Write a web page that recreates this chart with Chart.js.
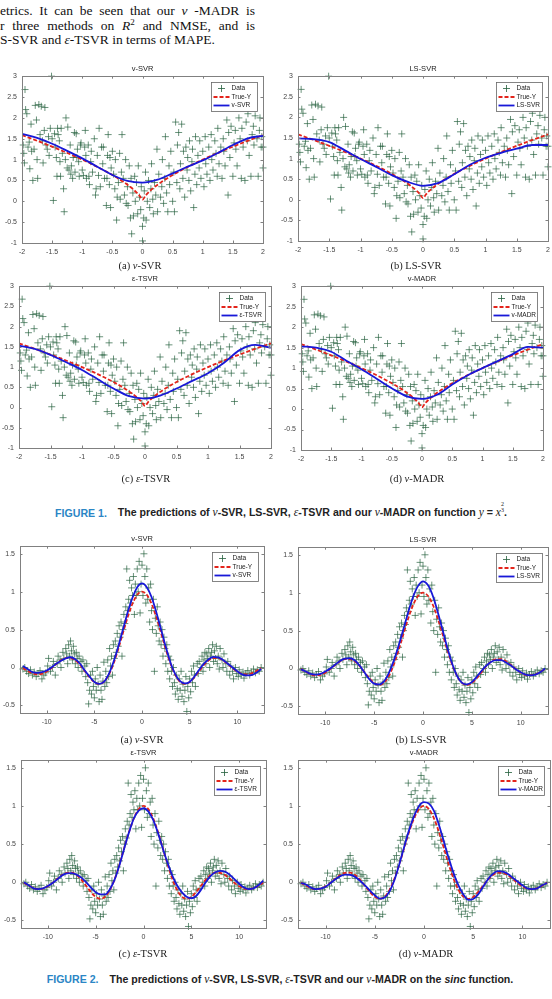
<!DOCTYPE html>
<html>
<head>
<meta charset="utf-8">
<script src="https://cdn.jsdelivr.net/npm/chart.js@4.4.0/dist/chart.umd.min.js"></script>
<style>
  body { margin: 0; width: 552px; height: 999px; position: relative; background: #fff; overflow: hidden; }
  .txt { position: absolute; left: 0; font-family: 'Liberation Serif', 'Times New Roman', serif; font-size: 13.5px; line-height: 15px; color: #111; white-space: nowrap; }
  .just { width: 255px; text-align: justify; text-align-last: justify; white-space: normal; }
  canvas { position: absolute; }
  .ttl { position: absolute; font-family: 'Liberation Sans', Arial, sans-serif; font-size: 7.5px; color: #222; transform: translate(-50%, -50%); white-space: nowrap; }
  .cap { position: absolute; font-family: 'Liberation Serif', 'Times New Roman', serif; font-size: 10.5px; color: #222; transform: translate(-50%, -50%); white-space: nowrap; }
  .fig { position: absolute; font-family: 'Liberation Sans', Arial, sans-serif; font-weight: bold; font-size: 10.6px; color: #222; transform: translate(-50%, -50%); white-space: nowrap; }
  .fig .lab { color: #2b86c5; margin-right: 8px; }
  .m { font-family: 'Liberation Serif', serif; font-style: italic; font-weight: normal; font-size: 11.5px; }
  .frac { display: inline-block; vertical-align: 5px; font-size: 6px; line-height: 5.5px; text-align: center; font-family: 'Liberation Serif', serif; font-weight: normal; }
</style>
</head>
<body>
<div id="page"></div>
<script>
// ---- data ----
const f1XTicks = [-2, -1.5, -1, -0.5, 0, 0.5, 1, 1.5, 2];
const f1YTicks = [-1, -0.5, 0, 0.5, 1, 1.5, 2, 2.5, 3];
const f2XTicks = [-10, -5, 0, 5, 10];
const f2YTicks = [-0.5, 0, 0.5, 1, 1.5];

// noisy samples of y = x^(2/3)
const f1Data = [[-1.98,1.35],[-1.97,1.15],[-1.96,0.92],[-1.95,2.68],[-1.94,2.2],[-1.92,2.1],[-1.9,1.3],[-1.88,1.42],[-1.87,0.78],[-1.85,1.85],[-1.84,1.2],[-1.82,0.5],[-1.8,1.25],[-1.78,2.3],[-1.76,1.95],[-1.75,1.0],[-1.74,0.55],[-1.72,2.32],[-1.7,1.6],[-1.68,2.28],[-1.66,1.45],[-1.65,0.92],[-1.63,1.7],[-1.62,2.25],[-1.6,1.35],[-1.58,1.25],[-1.56,1.55],[-1.55,1.1],[-1.53,1.75],[-1.51,3.0],[-1.5,1.5],[-1.48,0.02],[-1.46,1.62],[-1.45,1.3],[-1.43,1.05],[-1.42,0.6],[-1.41,1.75],[-1.4,1.6],[-1.38,1.45],[-1.37,0.95],[-1.36,0.6],[-1.35,1.75],[-1.33,1.15],[-1.31,0.3],[-1.3,-0.25],[-1.28,1.0],[-1.27,2.0],[-1.25,0.8],[-1.24,1.78],[-1.22,0.75],[-1.2,1.35],[-1.19,0.65],[-1.18,0.85],[-1.16,0.55],[-1.15,1.05],[-1.13,1.65],[-1.12,0.7],[-1.1,1.62],[-1.09,1.05],[-1.08,1.25],[-1.06,0.95],[-1.05,0.6],[-1.03,1.35],[-1.02,1.4],[-1.0,0.75],[-0.98,0.62],[-0.96,1.3],[-0.95,1.7],[-0.94,1.1],[-0.93,0.55],[-0.9,1.35],[-0.89,0.6],[-0.88,0.4],[-0.86,0.95],[-0.85,1.2],[-0.83,0.7],[-0.8,1.5],[-0.78,0.15],[-0.77,0.3],[-0.75,1.1],[-0.73,0.62],[-0.72,1.75],[-0.7,0.35],[-0.68,1.3],[-0.66,0.9],[-0.65,1.3],[-0.63,0.55],[-0.6,-0.1],[-0.59,0.55],[-0.58,1.1],[-0.57,1.6],[-0.55,0.4],[-0.54,1.05],[-0.53,-0.15],[-0.52,0.8],[-0.5,1.2],[-0.48,0.65],[-0.46,0.3],[-0.45,1.0],[-0.43,-0.45],[-0.42,0.1],[-0.4,0.45],[-0.38,1.15],[-0.37,0.05],[-0.35,0.7],[-0.34,1.6],[-0.32,0.55],[-0.3,0.15],[-0.28,1.0],[-0.27,-0.05],[-0.25,0.35],[-0.24,-0.1],[-0.22,0.85],[-0.2,-0.4],[-0.19,0.55],[-0.18,-0.78],[-0.16,0.2],[-0.15,-0.35],[-0.13,0.6],[-0.12,0.0],[-0.1,0.45],[-0.08,-0.3],[-0.07,0.85],[-0.05,0.1],[-0.03,-0.2],[-0.02,0.35],[0.0,-0.95],[0.0,-0.6],[0.02,-0.4],[0.03,0.25],[0.05,0.7],[0.06,-0.45],[0.08,0.0],[0.1,0.5],[0.12,-0.15],[0.14,0.3],[0.15,0.9],[0.17,0.05],[0.18,-0.3],[0.2,0.45],[0.22,0.15],[0.24,1.25],[0.25,-0.25],[0.27,0.65],[0.3,0.1],[0.32,0.35],[0.33,1.0],[0.35,-0.05],[0.37,0.55],[0.38,1.55],[0.4,0.2],[0.42,-0.25],[0.44,0.85],[0.45,0.4],[0.47,1.2],[0.5,0.0],[0.52,0.7],[0.53,-0.25],[0.55,1.9],[0.57,0.45],[0.58,1.35],[0.6,1.65],[0.62,0.3],[0.63,0.9],[0.65,1.85],[0.67,0.55],[0.68,1.2],[0.7,0.1],[0.72,1.3],[0.74,0.75],[0.75,1.05],[0.77,0.5],[0.78,1.45],[0.8,0.25],[0.82,0.95],[0.83,1.25],[0.85,-0.15],[0.87,0.65],[0.88,1.55],[0.9,0.4],[0.92,1.1],[0.94,0.8],[0.95,1.45],[0.97,0.55],[1.0,1.2],[1.02,0.35],[1.04,1.55],[1.05,0.9],[1.07,0.65],[1.1,1.3],[1.12,0.5],[1.14,1.6],[1.15,1.0],[1.17,0.75],[1.2,1.45],[1.22,1.15],[1.24,0.6],[1.25,1.75],[1.27,0.9],[1.3,1.3],[1.32,0.55],[1.34,1.5],[1.35,1.2],[1.37,0.85],[1.4,1.95],[1.42,0.15],[1.43,1.65],[1.45,1.05],[1.47,1.8],[1.5,0.6],[1.52,1.4],[1.54,1.7],[1.55,1.25],[1.57,0.85],[1.6,2.0],[1.62,1.5],[1.64,0.55],[1.65,1.75],[1.67,1.3],[1.7,0.5],[1.72,1.9],[1.74,1.45],[1.75,2.1],[1.77,1.1],[1.8,0.6],[1.82,1.6],[1.84,1.8],[1.85,1.35],[1.87,2.05],[1.9,1.5],[1.92,0.6],[1.94,1.7],[1.95,2.0],[1.97,1.3],[1.98,1.55],[2.0,0.8],[2.0,1.3]];

// true curve y = x^(2/3)
const f1TrueX = [-2,-1.9,-1.8,-1.7,-1.6,-1.5,-1.4,-1.3,-1.2,-1.1,-1,-0.9,-0.8,-0.7,-0.6,-0.5,-0.4,-0.3,-0.2,-0.1,-0.05,0,0.05,0.1,0.2,0.3,0.4,0.5,0.6,0.7,0.8,0.9,1,1.1,1.2,1.3,1.4,1.5,1.6,1.7,1.8,1.9,2];
const f1TrueY = [1.587,1.534,1.480,1.424,1.368,1.310,1.252,1.191,1.129,1.066,1.0,0.932,0.862,0.788,0.711,0.630,0.543,0.448,0.342,0.215,0.136,0.04,0.136,0.215,0.342,0.448,0.543,0.630,0.711,0.788,0.862,0.932,1.0,1.066,1.129,1.191,1.252,1.310,1.368,1.424,1.480,1.534,1.587];

// model predictions, figure 1
const f1ModX   = [-2,-1.75,-1.5,-1.25,-1,-0.75,-0.5,-0.25,0,0.25,0.5,0.75,1,1.25,1.5,1.75,2];
const f1SvrY   = [1.62,1.52,1.38,1.21,1.03,0.83,0.63,0.49,0.45,0.52,0.67,0.83,0.98,1.16,1.35,1.51,1.57];
const f1LssvrY = [1.49,1.47,1.40,1.20,0.99,0.80,0.60,0.44,0.34,0.41,0.62,0.85,1.02,1.14,1.24,1.33,1.33];
const f1TsvrY  = [1.53,1.45,1.30,1.12,0.93,0.70,0.47,0.28,0.22,0.30,0.47,0.66,0.85,1.10,1.42,1.55,1.48];
const f1MadrY  = [1.53,1.50,1.40,1.18,0.97,0.74,0.51,0.31,0.25,0.35,0.60,0.82,1.00,1.17,1.34,1.52,1.50];

// noisy samples of sinc
const f2Data = [[-12.5,-0.02],[-12.3,0.0],[-12.1,-0.05],[-11.9,-0.08],[-11.7,-0.03],[-11.5,-0.1],[-11.3,-0.06],[-11.1,-0.12],[-10.9,-0.08],[-10.7,-0.04],[-10.5,-0.15],[-10.3,-0.1],[-10.1,-0.07],[-9.9,0.02],[-9.8,0.12],[-9.6,-0.05],[-9.4,0.0],[-9.3,0.08],[-9.1,-0.1],[-8.9,0.05],[-8.8,0.15],[-8.6,0.1],[-8.5,0.0],[-8.3,0.2],[-8.2,0.12],[-8.0,0.25],[-7.9,0.18],[-7.8,0.05],[-7.7,0.3],[-7.6,0.15],[-7.5,0.35],[-7.4,0.22],[-7.3,0.1],[-7.2,0.28],[-7.1,0.18],[-7.0,0.05],[-6.9,0.2],[-6.8,0.12],[-6.7,0.0],[-6.6,0.15],[-6.4,0.08],[-6.3,-0.05],[-6.2,0.1],[-6.0,0.02],[-5.9,-0.12],[-5.8,0.05],[-5.7,-0.2],[-5.6,-0.48],[-5.5,-0.3],[-5.4,-0.1],[-5.3,-0.35],[-5.2,-0.05],[-5.1,-0.25],[-5.0,-0.4],[-4.9,-0.15],[-4.8,-0.3],[-4.7,0.0],[-4.6,-0.22],[-4.5,-0.45],[-4.4,-0.1],[-4.3,-0.3],[-4.2,-0.42],[-4.1,-0.18],[-4.0,0.07],[-3.9,-0.25],[-3.8,-0.05],[-3.7,-0.2],[-3.6,0.1],[-3.5,-0.12],[-3.4,0.25],[-3.3,0.02],[-3.2,0.15],[-3.1,-0.1],[-3.0,0.3],[-2.9,0.12],[-2.8,0.35],[-2.7,0.2],[-2.6,0.45],[-2.5,0.28],[-2.4,0.55],[-2.3,0.4],[-2.2,0.6],[-2.1,0.15],[-2.0,0.5],[-1.9,0.7],[-1.8,0.58],[-1.7,0.8],[-1.6,1.3],[-1.5,0.75],[-1.4,0.9],[-1.3,1.15],[-1.2,0.85],[-1.1,1.05],[-1.0,0.95],[-0.9,1.2],[-0.8,0.7],[-0.7,1.1],[-0.6,0.95],[-0.5,1.3],[-0.4,1.0],[-0.3,1.4],[-0.2,0.72],[-0.1,1.1],[0.0,1.35],[0.1,0.95],[0.2,1.5],[0.3,1.2],[0.4,0.85],[0.5,1.3],[0.6,0.9],[0.7,1.05],[0.8,0.6],[0.9,1.1],[1.0,0.75],[1.1,0.5],[1.2,0.9],[1.3,-0.05],[1.4,0.65],[1.5,0.45],[1.6,0.8],[1.7,0.55],[1.8,0.35],[1.9,0.6],[2.0,0.3],[2.1,0.5],[2.2,0.15],[2.3,0.4],[2.4,0.25],[2.5,0.05],[2.6,0.3],[2.7,-0.05],[2.8,0.15],[2.9,-0.15],[3.0,0.1],[3.1,-0.05],[3.2,-0.25],[3.3,0.0],[3.4,-0.2],[3.5,-0.35],[3.6,-0.1],[3.7,-0.28],[3.8,-0.42],[3.9,-0.15],[4.0,-0.3],[4.1,-0.05],[4.2,-0.38],[4.3,-0.22],[4.4,-0.45],[4.5,-0.3],[4.6,-0.12],[4.7,-0.58],[4.8,-0.25],[4.9,-0.4],[5.0,-0.15],[5.1,-0.32],[5.2,-0.05],[5.3,-0.2],[5.4,0.02],[5.5,-0.1],[5.6,-0.25],[5.8,0.05],[5.9,-0.08],[6.0,0.08],[6.2,0.0],[6.3,0.15],[6.4,-0.05],[6.5,0.1],[6.6,0.2],[6.7,0.05],[6.8,0.18],[6.9,0.12],[7.0,0.25],[7.1,0.0],[7.2,0.15],[7.3,0.2],[7.4,0.3],[7.5,0.08],[7.6,0.22],[7.7,0.12],[7.8,0.28],[7.9,0.05],[8.0,0.15],[8.1,-0.02],[8.2,0.25],[8.4,0.1],[8.5,0.0],[8.6,0.18],[8.8,0.05],[8.9,-0.05],[9.0,0.08],[9.2,-0.1],[9.3,0.02],[9.5,-0.05],[9.6,-0.15],[9.8,0.0],[9.9,-0.08],[10.1,-0.12],[10.2,-0.03],[10.4,-0.1],[10.6,-0.06],[10.7,-0.14],[10.9,-0.08],[11.1,-0.04],[11.3,-0.1],[11.5,-0.06],[11.7,-0.02],[11.9,-0.07],[12.1,-0.03],[12.3,-0.05],[12.5,0.0]];

// shared x grid for the sinc curves
const f2GridX  = [-12.5,-12,-11.5,-11,-10.5,-10,-9.5,-9,-8.5,-8,-7.5,-7,-6.5,-6,-5.5,-5,-4.5,-4,-3.5,-3,-2.5,-2,-1.5,-1,-0.5,0,0.5,1,1.5,2,2.5,3,3.5,4,4.5,5,5.5,6,6.5,7,7.5,8,8.5,9,9.5,10,10.5,11,11.5,12,12.5];
const f2TrueY  = [-0.005,-0.045,-0.076,-0.091,-0.084,-0.054,-0.008,0.046,0.094,0.124,0.125,0.094,0.033,-0.047,-0.128,-0.192,-0.217,-0.189,-0.100,0.047,0.239,0.455,0.665,0.841,0.959,1.0,0.959,0.841,0.665,0.455,0.239,0.047,-0.100,-0.189,-0.217,-0.192,-0.128,-0.047,0.033,0.094,0.125,0.124,0.094,0.046,-0.008,-0.054,-0.084,-0.091,-0.076,-0.045,-0.005];
const f2SvrY   = [0.02,-0.02,-0.06,-0.07,-0.06,-0.04,0.0,0.05,0.09,0.12,0.135,0.11,0.05,-0.04,-0.12,-0.19,-0.215,-0.19,-0.09,0.07,0.27,0.5,0.73,0.92,1.06,1.11,1.06,0.93,0.73,0.5,0.27,0.06,-0.09,-0.18,-0.21,-0.19,-0.12,-0.03,0.05,0.11,0.14,0.135,0.1,0.05,0.0,-0.05,-0.09,-0.105,-0.1,-0.07,-0.02];
const f2LssvrY = [-0.01,-0.04,-0.07,-0.08,-0.07,-0.04,0.0,0.05,0.10,0.13,0.135,0.11,0.04,-0.05,-0.14,-0.2,-0.21,-0.17,-0.06,0.1,0.3,0.52,0.75,0.95,1.09,1.15,1.1,0.96,0.75,0.51,0.27,0.06,-0.1,-0.19,-0.21,-0.18,-0.11,-0.03,0.04,0.09,0.11,0.11,0.08,0.04,-0.01,-0.05,-0.08,-0.09,-0.08,-0.05,0.0];
const f2TsvrY  = [0.0,-0.04,-0.08,-0.09,-0.08,-0.05,-0.01,0.04,0.09,0.115,0.12,0.1,0.06,0.0,-0.07,-0.13,-0.16,-0.16,-0.09,0.04,0.23,0.45,0.66,0.84,0.94,0.97,0.93,0.82,0.65,0.45,0.26,0.09,-0.04,-0.13,-0.19,-0.21,-0.18,-0.1,0.0,0.08,0.13,0.15,0.14,0.1,0.04,-0.02,-0.07,-0.09,-0.08,-0.04,0.02];
const f2MadrY  = [-0.01,-0.03,-0.07,-0.09,-0.085,-0.06,-0.01,0.04,0.08,0.1,0.095,0.07,0.02,-0.04,-0.11,-0.17,-0.215,-0.2,-0.12,0.03,0.24,0.47,0.69,0.87,1.0,1.05,1.03,0.94,0.76,0.54,0.32,0.12,-0.04,-0.16,-0.23,-0.22,-0.16,-0.06,0.04,0.11,0.145,0.14,0.11,0.06,0.01,-0.04,-0.08,-0.09,-0.08,-0.04,-0.01];

const page = document.getElementById('page');

function addDiv(cls, html, x, y, extra) {
  const d = document.createElement('div');
  d.className = cls;
  d.innerHTML = html;
  d.style.left = x + 'px';
  d.style.top = y + 'px';
  if (extra) Object.assign(d.style, extra);
  page.appendChild(d);
  return d;
}

// body text above figure 1
addDiv('txt just', 'etrics. It can be seen that our <i>&nu;</i> -MADR is', 0, 3);
addDiv('txt just', 'r three methods on <i>R</i><sup style="font-size:9px;line-height:0">2</sup> and NMSE, and is', 0, 18);
addDiv('txt', 'S-SVR and <i>&epsilon;</i>-TSVR in terms of MAPE.', 0, 32);

const frame = {
  id: 'frame',
  afterDatasetsDraw(chart) {
    const ca = chart.chartArea, ctx = chart.ctx;
    const xs = chart.scales.x, ys = chart.scales.y;
    const name = chart.options.plugins.frame.name;
    ctx.save();
    // axes box with inward ticks
    ctx.strokeStyle = '#808080';
    ctx.lineWidth = 1;
    ctx.strokeRect(Math.round(ca.left) + 0.5, Math.round(ca.top) + 0.5, Math.round(ca.right - ca.left), Math.round(ca.bottom - ca.top));
    ctx.beginPath();
    xs.ticks.forEach(t => {
      const px = Math.round(xs.getPixelForValue(t.value)) + 0.5;
      ctx.moveTo(px, ca.bottom); ctx.lineTo(px, ca.bottom - 2.5);
      ctx.moveTo(px, ca.top); ctx.lineTo(px, ca.top + 2.5);
    });
    ys.ticks.forEach(t => {
      const py = Math.round(ys.getPixelForValue(t.value)) + 0.5;
      ctx.moveTo(ca.left, py); ctx.lineTo(ca.left + 2.5, py);
      ctx.moveTo(ca.right, py); ctx.lineTo(ca.right - 2.5, py);
    });
    ctx.stroke();

    // legend box in the upper right
    const w = 46, h = 29;
    const x0 = Math.round(ca.right - w - 6) + 0.5, y0 = Math.round(ca.top + 6) + 0.5;
    ctx.fillStyle = '#fff';
    ctx.fillRect(x0, y0, w, h);
    ctx.strokeStyle = '#666';
    ctx.lineWidth = 0.8;
    ctx.strokeRect(x0, y0, w, h);
    const r1 = y0 + 6, r2 = y0 + 14.5, r3 = y0 + 23;
    ctx.strokeStyle = 'rgba(35,95,60,0.8)';
    ctx.lineWidth = 1;
    ctx.beginPath();
    ctx.moveTo(x0 + 6.5, r1); ctx.lineTo(x0 + 13.5, r1);
    ctx.moveTo(x0 + 10, r1 - 3.5); ctx.lineTo(x0 + 10, r1 + 3.5);
    ctx.stroke();
    ctx.strokeStyle = '#e3241b';
    ctx.lineWidth = 1.8;
    ctx.setLineDash([4, 2]);
    ctx.beginPath(); ctx.moveTo(x0 + 2, r2); ctx.lineTo(x0 + 18, r2); ctx.stroke();
    ctx.setLineDash([]);
    ctx.strokeStyle = '#1818d8';
    ctx.beginPath(); ctx.moveTo(x0 + 2, r3); ctx.lineTo(x0 + 18, r3); ctx.stroke();
    ctx.fillStyle = '#222';
    ctx.font = '6.5px "Liberation Sans", Arial, sans-serif';
    ctx.textBaseline = 'middle';
    ctx.fillText('Data', x0 + 20, r1);
    ctx.fillText('True-Y', x0 + 20, r2);
    ctx.fillText(name, x0 + 20, r3);
    ctx.restore();
  }
};

const padL = 28, padT = 8, padR = 8, padB = 18;

function pts(xs, ys) {
  return xs.map((x, i) => ({ x: x, y: ys[i] }));
}

function makePanel(p) {
  const c = document.createElement('canvas');
  const w = (p.r - p.l) + padL + padR;
  const h = (p.b - p.t) + padT + padB;
  c.width = w; c.height = h;
  c.style.left = (p.l - padL) + 'px';
  c.style.top = (p.t - padT) + 'px';
  c.style.width = w + 'px';
  c.style.height = h + 'px';
  page.appendChild(c);

  const tickFont = { family: "'Liberation Sans', Arial, sans-serif", size: 7 };
  new Chart(c, {
    type: 'scatter',
    data: {
      datasets: [
        {
          label: p.name,
          data: pts(p.modX, p.modY),
          showLine: true,
          borderColor: '#1818d8',
          borderWidth: 1.8,
          pointRadius: 0,
          cubicInterpolationMode: 'monotone',
          order: 0
        },
        {
          label: 'True-Y',
          data: pts(p.trueX, p.trueY),
          showLine: true,
          borderColor: '#e3241b',
          borderWidth: 1.8,
          borderDash: [4, 2],
          pointRadius: 0,
          cubicInterpolationMode: 'monotone',
          order: 1
        },
        {
          label: 'Data',
          data: p.data.map(d => ({ x: d[0], y: d[1] })),
          pointStyle: 'cross',
          pointRadius: 3.5,
          borderColor: 'rgba(35,95,60,0.68)',
          pointBorderWidth: 1,
          clip: 5,
          order: 2
        }
      ]
    },
    options: {
      responsive: false,
      animation: false,
      devicePixelRatio: 1,
      layout: { padding: { left: 0, top: padT, right: padR, bottom: 0 } },
      plugins: { legend: { display: false }, tooltip: { enabled: false }, frame: { name: p.name } },
      scales: {
        x: {
          type: 'linear', min: p.xr[0], max: p.xr[1],
          grid: { display: false, drawTicks: false },
          border: { display: false },
          afterBuildTicks: s => { s.ticks = p.xt.map(v => ({ value: v })); },
          afterFit: s => { s.height = padB; },
          ticks: { font: tickFont, color: '#444', padding: 5, autoSkip: false, maxRotation: 0, callback: v => String(v) }
        },
        y: {
          type: 'linear', min: p.yr[0], max: p.yr[1],
          grid: { display: false, drawTicks: false },
          border: { display: false },
          afterBuildTicks: s => { s.ticks = p.yt.map(v => ({ value: v })); },
          afterFit: s => { s.width = padL; },
          ticks: { font: tickFont, color: '#444', padding: 5, autoSkip: false, callback: v => String(v) }
        }
      }
    },
    plugins: [frame]
  });

  addDiv('ttl', p.name, (p.l + p.r) / 2, p.t - 7);
  addDiv('cap', p.cap, p.capX, p.capY);
}

const f1 = { data: f1Data, trueX: f1TrueX, trueY: f1TrueY, modX: f1ModX, xr: [-2, 2], yr: [-1, 3], xt: f1XTicks, yt: f1YTicks };
const f2 = { data: f2Data, trueX: f2GridX, trueY: f2TrueY, modX: f2GridX, xr: [-12.8, 12.8], yr: [-0.6, 1.6], xt: f2XTicks, yt: f2YTicks };

const panels = [
  Object.assign({}, f1, { l: 22, t: 75, r: 263, b: 243, name: 'v-SVR', modY: f1SvrY, cap: '(a) <i>&nu;</i>-SVR', capX: 140, capY: 265 }),
  Object.assign({}, f1, { l: 298, t: 75, r: 548, b: 241, name: 'LS-SVR', modY: f1LssvrY, cap: '(b) LS-SVR', capX: 416, capY: 265 }),
  Object.assign({}, f1, { l: 19, t: 285, r: 271, b: 448, name: '\u03b5-TSVR', modY: f1TsvrY, cap: '(c) <i>&epsilon;</i>-TSVR', capX: 146, capY: 478 }),
  Object.assign({}, f1, { l: 301, t: 285, r: 543, b: 450, name: 'v-MADR', modY: f1MadrY, cap: '(d) <i>&nu;</i>-MADR', capX: 417, capY: 478 }),
  Object.assign({}, f2, { l: 20, t: 545, r: 264, b: 713, name: 'v-SVR', modY: f2SvrY, cap: '(a) <i>&nu;</i>-SVR', capX: 142, capY: 739 }),
  Object.assign({}, f2, { l: 298, t: 546, r: 548, b: 714, name: 'LS-SVR', modY: f2LssvrY, cap: '(b) LS-SVR', capX: 421, capY: 739 }),
  Object.assign({}, f2, { l: 21, t: 759, r: 266, b: 928, name: '\u03b5-TSVR', modY: f2TsvrY, cap: '(c) <i>&epsilon;</i>-TSVR', capX: 143, capY: 953 }),
  Object.assign({}, f2, { l: 298, t: 759, r: 550, b: 928, name: 'v-MADR', modY: f2MadrY, cap: '(d) <i>&nu;</i>-MADR', capX: 426, capY: 953 })
];

panels.forEach(makePanel);

addDiv('fig', '<span class="lab">FIGURE 1.</span> The predictions of <span class="m">&nu;</span>-SVR, LS-SVR, <span class="m">&epsilon;</span>-TSVR and our <span class="m">&nu;</span>-MADR on function <span class="m">y</span> = <span class="m">x</span><span class="frac">2<br>3</span>.', 281, 510);
addDiv('fig', '<span class="lab">FIGURE 2.</span> The predictions of <span class="m">&nu;</span>-SVR, LS-SVR, <span class="m">&epsilon;</span>-TSVR and our <span class="m">&nu;</span>-MADR on the <i>sinc</i> function.', 280, 979);
</script>
</body>
</html>
